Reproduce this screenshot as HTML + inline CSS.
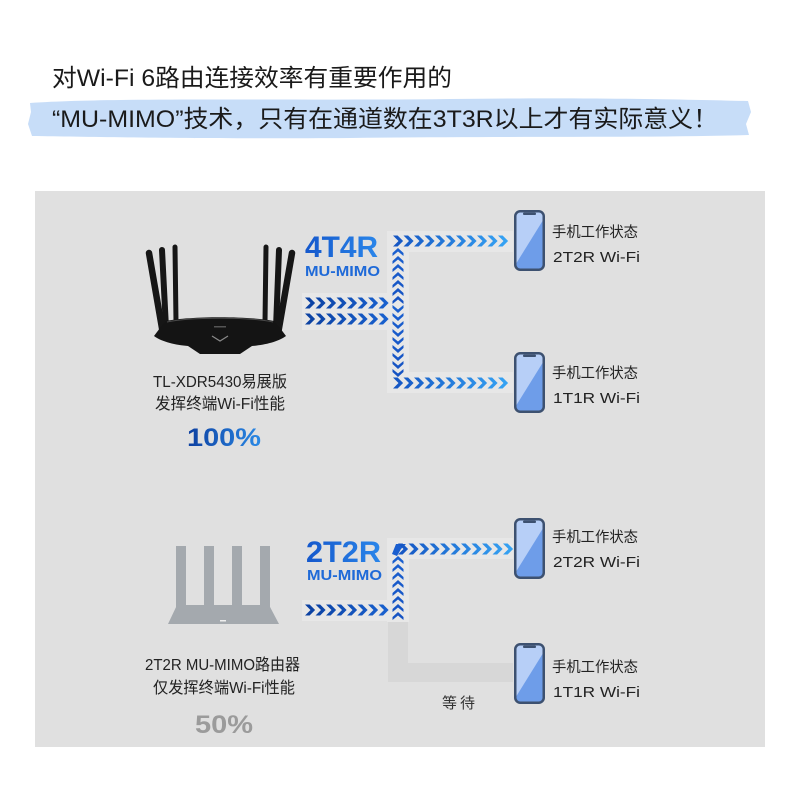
<!DOCTYPE html>
<html>
<head>
<meta charset="utf-8">
<style>
  html,body{margin:0;padding:0;background:#fff;}
  body{width:800px;height:800px;overflow:hidden;}
  svg{display:block;}
  .t{font-family:"Liberation Sans","Noto Sans CJK SC",sans-serif;}
</style>
</head>
<body>
<svg width="800" height="800" viewBox="0 0 800 800" xmlns="http://www.w3.org/2000/svg">
  <defs>
    <pattern id="pR" patternUnits="userSpaceOnUse" width="10.5" height="12">
      <polygon points="0,0.5 4.6,0.5 10.1,6 4.6,11.5 0,11.5 5.5,6" fill="#fff"/>
    </pattern>
    <pattern id="pU" patternUnits="userSpaceOnUse" width="12" height="8">
      <polygon points="0.5,5 6,0 11.5,5 11.5,8 6,3.5 0.5,8" fill="#fff"/>
    </pattern>
    <pattern id="pD" patternUnits="userSpaceOnUse" width="12" height="8">
      <polygon points="0.5,0 6,4.5 11.5,0 11.5,3 6,8 0.5,3" fill="#fff"/>
    </pattern>
    <mask id="mR" maskUnits="userSpaceOnUse" x="0" y="0" width="200" height="12">
      <rect width="200" height="12" fill="url(#pR)"/>
    </mask>
    <mask id="mU" maskUnits="userSpaceOnUse" x="0" y="0" width="12" height="200">
      <rect width="12" height="200" fill="url(#pU)"/>
    </mask>
    <mask id="mD" maskUnits="userSpaceOnUse" x="0" y="0" width="12" height="200">
      <rect width="12" height="200" fill="url(#pD)"/>
    </mask>
    <linearGradient id="gIn" x1="0" y1="0" x2="1" y2="0">
      <stop offset="0" stop-color="#0b40a0"/>
      <stop offset="1" stop-color="#1a62d0"/>
    </linearGradient>
    <linearGradient id="gOut" x1="0" y1="0" x2="1" y2="0">
      <stop offset="0" stop-color="#1454c2"/>
      <stop offset="1" stop-color="#36a4f4"/>
    </linearGradient>
    <linearGradient id="gV" x1="0" y1="0" x2="0" y2="1">
      <stop offset="0" stop-color="#1a60d0"/>
      <stop offset="1" stop-color="#1552c2"/>
    </linearGradient>
    <linearGradient id="gTxt" x1="0" y1="0" x2="1" y2="0">
      <stop offset="0" stop-color="#1558cc"/>
      <stop offset="1" stop-color="#2a86ea"/>
    </linearGradient>
    <linearGradient id="gPct" x1="0" y1="0" x2="1" y2="0">
      <stop offset="0" stop-color="#0d3fa0"/>
      <stop offset="1" stop-color="#2b8ae6"/>
    </linearGradient>
    <clipPath id="phClip">
      <rect x="1.25" y="1.25" width="28.5" height="58.5" rx="5"/>
    </clipPath>
    <g id="phone">
      <rect x="1.25" y="1.25" width="28.5" height="58.5" rx="5" fill="#b7cff7"/>
      <polygon points="31,7 31,62 0,62 0,57" fill="#6e9de9" clip-path="url(#phClip)"/>
      <rect x="9" y="2.6" width="13" height="2.4" rx="1" fill="#3d5170"/>
      <rect x="1.25" y="1.25" width="28.5" height="58.5" rx="5" fill="none" stroke="#3d5170" stroke-width="2.5"/>
    </g>
  </defs>

  <!-- Title highlight -->
  <path d="M30,103 C120,97 300,101 450,99 C600,97 700,100 748,101 L751,112 L746,124 L749,135 C650,138 500,136 350,138 C200,139 100,137 32,136 L28,124 L31,112 Z" fill="#c7ddf8"/>

  <!-- Title -->
  <text class="t" x="52" y="86" font-size="24" fill="#1a1a1a" textLength="400" lengthAdjust="spacingAndGlyphs">对Wi-Fi 6路由连接效率有重要作用的</text>
  <text class="t" x="52" y="127" font-size="24" fill="#1a1a1a" textLength="666" lengthAdjust="spacingAndGlyphs">“MU-MIMO”技术，只有在通道数在3T3R以上才有实际意义！</text>

  <!-- Gray panel -->
  <rect x="35" y="191" width="730" height="556" fill="#e0e0e0"/>

  <!-- ===== TOP SECTION ===== -->
  <g fill="#e7e7e7">
    <rect x="302" y="293" width="92" height="37"/>
    <rect x="387" y="231" width="22" height="162"/>
    <rect x="387" y="231" width="126" height="21"/>
    <rect x="387" y="372" width="126" height="21"/>
  </g>

  <!-- Router (black) -->
  <g stroke="#161616" stroke-linecap="round" fill="none">
    <line x1="149" y1="253" x2="163" y2="334" stroke-width="6.5"/>
    <line x1="162" y1="250" x2="166" y2="328" stroke-width="6"/>
    <line x1="175" y1="247" x2="176" y2="322" stroke-width="5"/>
    <line x1="266" y1="247" x2="265" y2="322" stroke-width="5"/>
    <line x1="279" y1="250" x2="276" y2="328" stroke-width="6"/>
    <line x1="292" y1="253" x2="278" y2="334" stroke-width="6.5"/>
  </g>
  <path d="M166,321 C190,316 250,316 274,321 L280,328 L286,336 C278,342 264,345 252,346 L240,354 L200,354 L188,346 C176,345 162,342 154,336 L160,328 Z" fill="#141414"/>
  <path d="M167,322 C190,317 250,317 273,322" stroke="#4a4a4a" stroke-width="1" fill="none"/>
  <polyline points="212,336 220,341 228,336" stroke="#8a8a8a" stroke-width="1.2" fill="none"/>
  <rect x="214" y="326" width="12" height="1.5" fill="#555"/>

  <!-- 4T4R text -->
  <text class="t" x="305" y="257" font-size="30" font-weight="bold" fill="url(#gTxt)" textLength="73" lengthAdjust="spacingAndGlyphs">4T4R</text>
  <text class="t" x="305" y="276" font-size="15" font-weight="bold" fill="#1f6ad8" textLength="75" lengthAdjust="spacingAndGlyphs">MU-MIMO</text>

  <!-- chevrons top -->
  <g transform="translate(305,297)"><rect width="84" height="12" fill="url(#gIn)" mask="url(#mR)"/></g>
  <g transform="translate(305,313)"><rect width="84" height="12" fill="url(#gIn)" mask="url(#mR)"/></g>
  <g transform="translate(392,248)"><rect width="12" height="56" fill="url(#gV)" mask="url(#mU)"/></g>
  <g transform="translate(392,305)"><rect width="12" height="72" fill="url(#gV)" mask="url(#mD)"/></g>
  <g transform="translate(393,235)"><rect width="115.5" height="12" fill="url(#gOut)" mask="url(#mR)"/></g>
  <g transform="translate(393,377)"><rect width="115.5" height="12" fill="url(#gOut)" mask="url(#mR)"/></g>

  <!-- phones top -->
  <use href="#phone" transform="translate(514,210)"/>
  <use href="#phone" transform="translate(514,352)"/>

  <text class="t" x="552" y="237" font-size="14.5" fill="#222" textLength="86" lengthAdjust="spacingAndGlyphs">手机工作状态</text>
  <text class="t" x="553" y="262" font-size="15" fill="#222" textLength="87" lengthAdjust="spacingAndGlyphs">2T2R Wi-Fi</text>
  <text class="t" x="552" y="378" font-size="14.5" fill="#222" textLength="86" lengthAdjust="spacingAndGlyphs">手机工作状态</text>
  <text class="t" x="553" y="403" font-size="15" fill="#222" textLength="87" lengthAdjust="spacingAndGlyphs">1T1R Wi-Fi</text>

  <text class="t" x="153" y="387" font-size="16" fill="#222" textLength="134" lengthAdjust="spacingAndGlyphs">TL-XDR5430易展版</text>
  <text class="t" x="155" y="409" font-size="16" fill="#222" textLength="130" lengthAdjust="spacingAndGlyphs">发挥终端Wi-Fi性能</text>
  <text class="t" x="187" y="446" font-size="25" font-weight="bold" fill="url(#gPct)" textLength="74" lengthAdjust="spacingAndGlyphs">100%</text>

  <!-- ===== BOTTOM SECTION ===== -->
  <g fill="#e7e7e7">
    <rect x="302" y="600" width="92" height="21"/>
    <rect x="387" y="538" width="22" height="84"/>
    <rect x="387" y="538" width="126" height="21"/>
  </g>
  <g fill="#d7d7d7">
    <rect x="388" y="622" width="20" height="60"/>
    <rect x="388" y="663" width="125" height="19"/>
  </g>

  <!-- Gray router -->
  <g fill="#a4a9ae">
    <rect x="176" y="546" width="10" height="61"/>
    <rect x="204" y="546" width="10" height="61"/>
    <rect x="232" y="546" width="10" height="61"/>
    <rect x="260" y="546" width="10" height="61"/>
    <path d="M177,605 L269,605 L279,624 L168,624 Z"/>
  </g>
  <rect x="220" y="620" width="6" height="1.5" fill="#eee"/>

  <text class="t" x="306" y="562" font-size="30" font-weight="bold" fill="url(#gTxt)" textLength="75" lengthAdjust="spacingAndGlyphs">2T2R</text>
  <text class="t" x="307" y="580" font-size="15" font-weight="bold" fill="#1f6ad8" textLength="75" lengthAdjust="spacingAndGlyphs">MU-MIMO</text>

  <!-- chevrons bottom -->
  <g transform="translate(305,604)"><rect width="84" height="12" fill="url(#gIn)" mask="url(#mR)"/></g>
  <g transform="translate(392,556)"><rect width="12" height="64" fill="url(#gV)" mask="url(#mU)"/></g>
  <polygon points="392,554 396,544 406,544 401,549 397,556" fill="#1a5ecf"/>
  <g transform="translate(398,543)"><rect width="115.5" height="12" fill="url(#gOut)" mask="url(#mR)"/></g>

  <use href="#phone" transform="translate(514,518)"/>
  <use href="#phone" transform="translate(514,643)"/>

  <text class="t" x="552" y="542" font-size="14.5" fill="#222" textLength="86" lengthAdjust="spacingAndGlyphs">手机工作状态</text>
  <text class="t" x="553" y="567" font-size="15" fill="#222" textLength="87" lengthAdjust="spacingAndGlyphs">2T2R Wi-Fi</text>
  <text class="t" x="552" y="672" font-size="14.5" fill="#222" textLength="86" lengthAdjust="spacingAndGlyphs">手机工作状态</text>
  <text class="t" x="553" y="697" font-size="15" fill="#222" textLength="87" lengthAdjust="spacingAndGlyphs">1T1R Wi-Fi</text>

  <text class="t" x="442" y="708" font-size="15" fill="#333" textLength="33" lengthAdjust="spacing">等待</text>

  <text class="t" x="145" y="670" font-size="16" fill="#222" textLength="155" lengthAdjust="spacingAndGlyphs">2T2R MU-MIMO路由器</text>
  <text class="t" x="153" y="693" font-size="16" fill="#222" textLength="142" lengthAdjust="spacingAndGlyphs">仅发挥终端Wi-Fi性能</text>
  <text class="t" x="195" y="733" font-size="25" font-weight="bold" fill="#9b9b9b" textLength="58" lengthAdjust="spacingAndGlyphs">50%</text>
</svg>
</body>
</html>
